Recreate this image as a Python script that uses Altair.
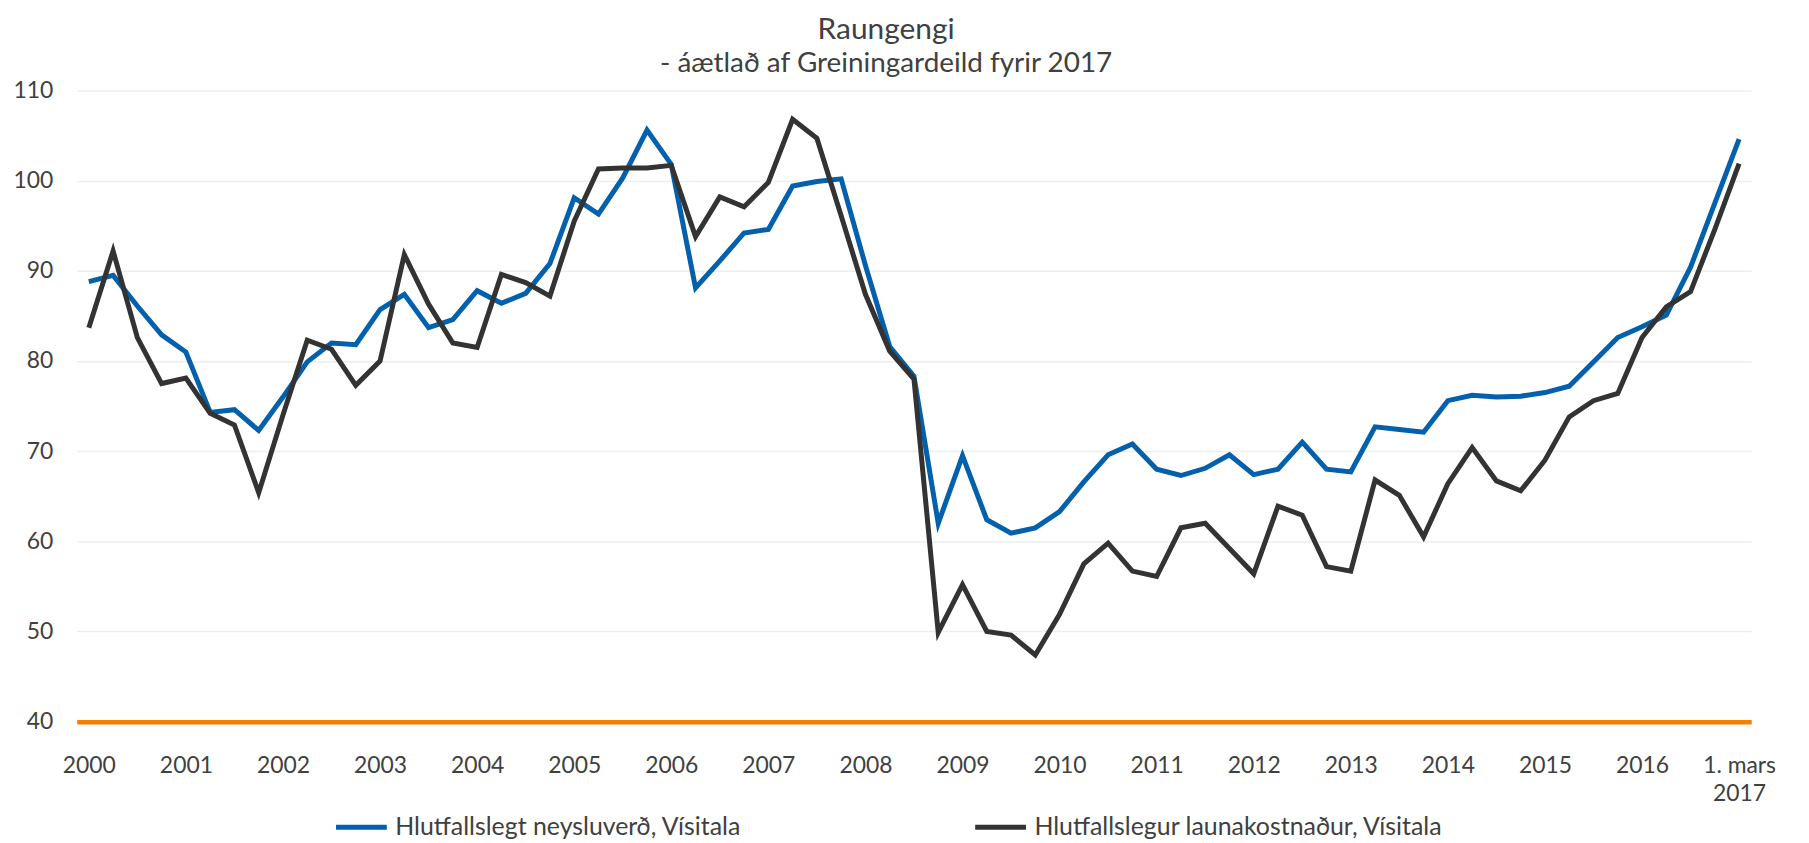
import altair as alt
import pandas as pd

# quarterly index positions 0..68 (2000Q1 .. "1. mars 2017")
neysluverd = [
    88.8, 89.5, 86.1, 82.9, 81.0, 74.3, 74.6, 72.3, 76.0, 79.9, 82.0, 81.8,
    85.7, 87.4, 83.7, 84.6, 87.8, 86.4, 87.5, 90.8, 98.1, 96.3, 100.3, 105.6,
    101.8, 88.1, 91.1, 94.2, 94.6, 99.4, 99.9, 100.2, 90.6, 81.6, 78.3, 62.0,
    69.5, 62.4, 60.9, 61.5, 63.3, 66.6, 69.6, 70.8, 68.0, 67.3, 68.1, 69.6,
    67.4, 68.0, 71.0, 68.0, 67.7, 72.7, 72.4, 72.1, 75.6, 76.2, 76.0, 76.1,
    76.5, 77.2, 79.9, 82.6, 83.8, 85.1, 90.4, 97.5, 104.6,
]
launakostnadur = [
    83.7, 92.2, 82.6, 77.5, 78.1, 74.2, 72.9, 65.4, 74.0, 82.3, 81.3, 77.3,
    80.0, 91.8, 86.3, 82.0, 81.5, 89.6, 88.7, 87.2, 95.5, 101.3, 101.4, 101.4,
    101.7, 93.8, 98.2, 97.1, 99.8, 106.8, 104.7, 96.1, 87.4, 81.1, 78.0, 49.9,
    55.2, 50.0, 49.6, 47.4, 51.9, 57.5, 59.8, 56.7, 56.1, 61.5, 62.0, 59.2,
    56.4, 63.9, 62.9, 57.2, 56.7, 66.8, 65.1, 60.5, 66.4, 70.4, 66.7, 65.6,
    69.0, 73.8, 75.6, 76.4, 82.6, 86.0, 87.7, 94.6, 101.9,
]
series_names = ["Hlutfallslegt neysluverð, Vísitala", "Hlutfallslegur launakostnaður, Vísitala"]
series_colors = ["#0260AC", "#333333"]
tick_positions = list(range(0, 65, 4)) + [68]
y_ticks = [40, 50, 60, 70, 80, 90, 100, 110]

rows = []
for i, v in enumerate(neysluverd):
    rows.append({"t": i, "value": v, "series": series_names[0]})
for i, v in enumerate(launakostnadur):
    rows.append({"t": i, "value": v, "series": series_names[1]})
df = pd.DataFrame(rows)

FONT = "Lato"
TXT = "#404040"

chart = (
    alt.Chart(df)
    .mark_line(strokeWidth=5, strokeJoin="miter", strokeCap="butt")
    .encode(
        x=alt.X(
            "t:Q",
            scale=alt.Scale(domain=[-0.5, 68.5], nice=False, zero=False),
            axis=alt.Axis(
                values=tick_positions,
                labelExpr="datum.value == 68 ? ['1. mars', '2017'] : toString(2000 + datum.value / 4)",
                title=None,
                grid=False,
                ticks=False,
                domainColor="#F77F00",
                domainWidth=4.5,
                labelFont=FONT,
                labelFontSize=23,
                labelColor=TXT,
                labelPadding=33,
                labelLineHeight=28,
                labelBaseline="top",
                labelOverlap=False,
                labelFlush=False,
            ),
        ),
        y=alt.Y(
            "value:Q",
            scale=alt.Scale(domain=[40, 110], nice=False, zero=False),
            axis=alt.Axis(
                values=y_ticks,
                title=None,
                domain=False,
                ticks=False,
                gridColor="#EEEEEE",
                gridWidth=1.5,
                labelFont=FONT,
                labelFontSize=23,
                labelColor=TXT,
                labelPadding=24,
            ),
        ),
        color=alt.Color(
            "series:N",
            scale=alt.Scale(domain=series_names, range=series_colors),
            legend=alt.Legend(
                title=None,
                orient="none",
                legendX=258,
                legendY=712,
                direction="horizontal",
                symbolType="stroke",
                symbolSize=2601,
                symbolStrokeWidth=5,
                labelFont=FONT,
                labelFontSize=25,
                labelColor=TXT,
                labelBaseline="middle",
                labelOffset=6,
                labelLimit=0,
                columnPadding=224,
                padding=0,
            ),
        ),
        order="t:Q",
    )
    .properties(
        width=1682,
        height=634,
        padding={"left": 69, "top": 81, "right": 50, "bottom": 120},
        autosize=alt.AutoSizeParams(type="none"),
        title=alt.TitleParams(
            text="Raungengi",
            subtitle="- áætlað af Greiningardeild  fyrir 2017",
            font=FONT,
            subtitleFont=FONT,
            fontSize=30,
            subtitleFontSize=28,
            fontWeight="normal",
            color=TXT,
            subtitleColor=TXT,
            anchor="middle",
            dx=-28,
            offset=2,
            subtitlePadding=5,
        ),
    )
    .configure_view(stroke=None)
)

chart.save("out.html", embed_options={"renderer": "svg", "actions": False})
